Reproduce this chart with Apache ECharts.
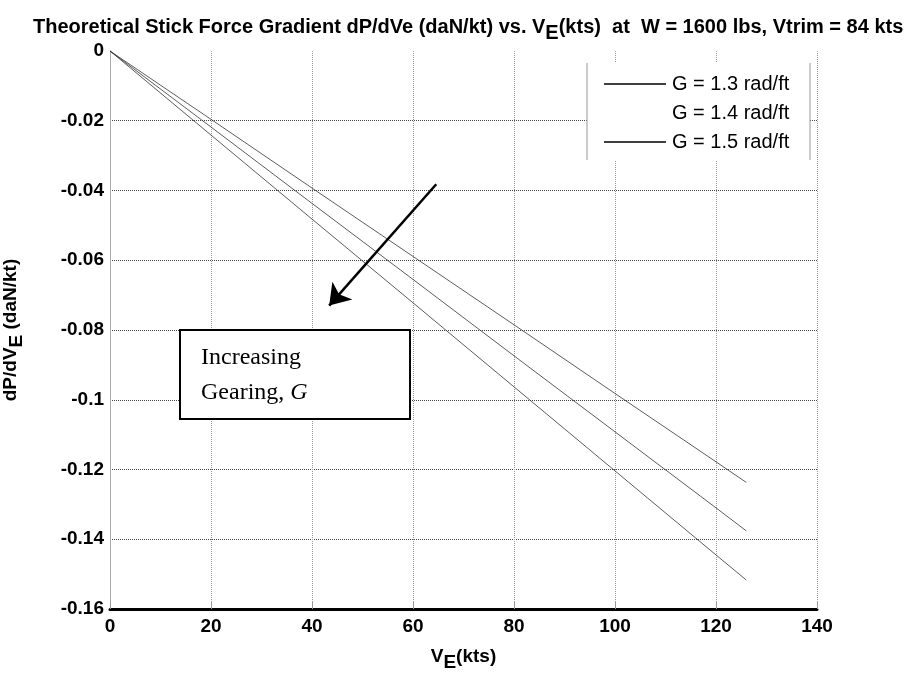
<!DOCTYPE html>
<html>
<head>
<meta charset="utf-8">
<script src="https://cdn.jsdelivr.net/npm/echarts@6/dist/echarts.min.js"></script>
<style>
  html, body { margin: 0; padding: 0; background: #fff; }
  #chart { width: 910px; height: 673px; }
</style>
</head>
<body>
<div id="chart"></div>
<script>
// airspeed samples (kts)
const speeds = [0, 20, 40, 60, 80, 100, 120, 126];
// stick force gradient dP/dVE (daN/kt)
const gradG13 = [0, -0.0196, -0.0393, -0.0589, -0.0785, -0.0982, -0.1178, -0.1237];
const gradG14 = [0, -0.0218, -0.0437, -0.0655, -0.0874, -0.1092, -0.1310, -0.1376];
const gradG15 = [0, -0.0241, -0.0482, -0.0722, -0.0963, -0.1204, -0.1445, -0.1517];
const seriesNames = ['G = 1.3 rad/ft', 'G = 1.4 rad/ft', 'G = 1.5 rad/ft'];
// annotation arrow, in data units [kts, daN/kt]
const arrowFrom = [64.6, -0.0382];
const arrowTo = [43.4, -0.0730];

const labelFont = { fontFamily: 'Liberation Sans, Arial, sans-serif', fontSize: 19, fontWeight: 'bold', color: '#000' };
// thin horizontal bar used as the legend key
const legendKey = 'path://M0,0L62,0L62,1.5L0,1.5Z';

function pairs(ys) {
  return speeds.map((x, i) => [x, ys[i]]);
}

function lineSeries(name, ys) {
  return {
    name: name,
    type: 'line',
    data: pairs(ys),
    symbol: 'none',
    silent: true,
    color: '#333',
    lineStyle: { color: '#333', width: 0.8 },
    animation: false
  };
}

const chart = echarts.init(document.getElementById('chart'));

const series = [
  lineSeries(seriesNames[0], gradG13),
  lineSeries(seriesNames[1], gradG14),
  lineSeries(seriesNames[2], gradG15)
];
// arrow pointing towards increasing gearing
series[0].markLine = {
  silent: true,
  symbol: ['none', 'arrow'],
  symbolSize: 20,
  label: { show: false },
  lineStyle: { color: '#000', width: 2.5, type: 'solid' },
  data: [[{ coord: arrowFrom }, { coord: arrowTo }]],
  animation: false
};

chart.setOption({
  backgroundColor: '#fff',
  animation: false,
  title: {
    text: 'Theoretical Stick Force Gradient dP/dVe (daN/kt) vs. V{sub|E}(kts)  at  W = 1600 lbs, Vtrim = 84 kts',
    left: 28,
    top: 6,
    textStyle: {
      fontFamily: 'Liberation Sans, Arial, sans-serif',
      fontSize: 20,
      fontWeight: 'bold',
      color: '#000',
      rich: {
        sub: { fontSize: 20, fontWeight: 'bold', padding: [12, 0, 0, 0] }
      }
    }
  },
  grid: { left: 110, right: 93, top: 51, bottom: 64, containLabel: false, outerBoundsMode: 'none' },
  legend: {
    orient: 'vertical',
    left: 599,
    top: 69,
    itemWidth: 62,
    itemHeight: 2,
    itemGap: 9,
    textStyle: { fontFamily: 'Liberation Sans, Arial, sans-serif', fontSize: 20, lineHeight: 20, color: '#000', padding: [0, 0, 0, 1] },
    data: [
      { name: seriesNames[0], icon: legendKey, itemStyle: { color: '#000', opacity: 1 } },
      { name: seriesNames[1], icon: legendKey, itemStyle: { color: '#fff', opacity: 0 } },
      { name: seriesNames[2], icon: legendKey, itemStyle: { color: '#000', opacity: 1 } }
    ],
    selectedMode: false
  },
  xAxis: {
    type: 'value',
    min: 0,
    max: 140,
    interval: 20,
    name: 'V{sub|E}(kts)',
    nameLocation: 'middle',
    nameGap: 32,
    nameTextStyle: Object.assign({}, labelFont, {
      fontSize: 19,
      rich: { sub: { fontSize: 19, fontWeight: 'bold', padding: [12, 0, 0, 0] } }
    }),
    axisLine: { show: true, onZero: false, lineStyle: { color: '#000', width: 3 } },
    axisTick: { show: true, inside: true, length: 7, lineStyle: { color: '#999' } },
    axisLabel: Object.assign({}, labelFont, { margin: 8 }),
    splitLine: { show: true, showMinLine: false, lineStyle: { color: '#999', type: 'dotted', width: 1 } }
  },
  yAxis: {
    type: 'value',
    min: -0.16,
    max: 0,
    interval: 0.02,
    name: 'dP/dV{sub|E} (daN/kt)',
    nameLocation: 'middle',
    nameGap: 84,
    nameTextStyle: Object.assign({}, labelFont, {
      fontSize: 19,
      rich: { sub: { fontSize: 19, fontWeight: 'bold', padding: [12, 0, 0, 0] } }
    }),
    axisLine: { show: true, onZero: false, lineStyle: { color: '#aaa', width: 1 } },
    axisTick: { show: false },
    axisLabel: Object.assign({}, labelFont, { margin: 6 }),
    splitLine: { show: true, showMaxLine: false, lineStyle: { color: '#444', type: 'dotted', width: 1 } }
  },
  graphic: [
    // legend box: white fill plus its two sides
    { type: 'rect', shape: { x: 587, y: 63, width: 223, height: 97 }, style: { fill: '#fff' }, z: 3, silent: true },
    { type: 'line', shape: { x1: 587, y1: 63, x2: 587, y2: 160 }, style: { stroke: '#999', lineWidth: 1 }, z: 3, silent: true },
    { type: 'line', shape: { x1: 810, y1: 63, x2: 810, y2: 160 }, style: { stroke: '#999', lineWidth: 1 }, z: 3, silent: true },
    // annotation box
    {
      type: 'rect',
      shape: { x: 180, y: 330, width: 230, height: 89 },
      style: { fill: '#fff', stroke: '#000', lineWidth: 2 },
      z: 10,
      silent: true
    },
    {
      type: 'text',
      x: 201,
      y: 340,
      z: 11,
      silent: true,
      style: {
        text: 'Increasing\nGearing, {it|G}',
        fontFamily: 'Liberation Serif, Times New Roman, serif',
        fontSize: 24,
        lineHeight: 35,
        fill: '#000',
        rich: {
          it: { fontFamily: 'Liberation Serif, Times New Roman, serif', fontSize: 24, fontStyle: 'italic', lineHeight: 35 }
        }
      }
    }
  ],
  series: series
});
</script>
</body>
</html>
